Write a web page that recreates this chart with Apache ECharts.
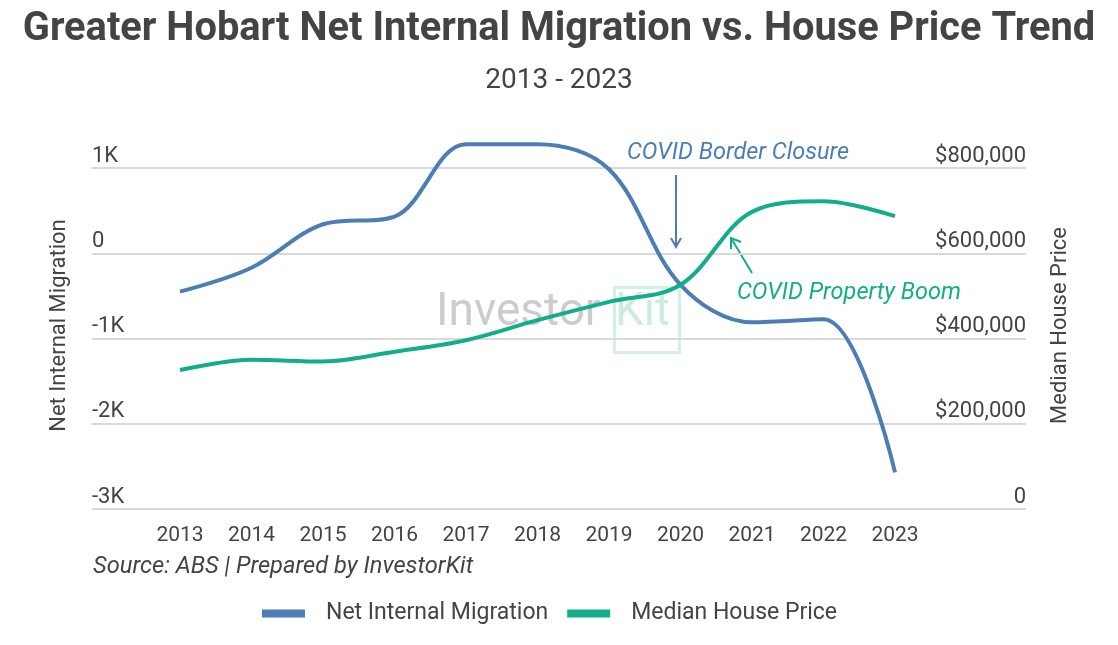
<!DOCTYPE html>
<html>
<head>
<meta charset="utf-8">
<script src="https://cdn.jsdelivr.net/npm/echarts@6/dist/echarts.min.js"></script>
<style>
html,body{margin:0;padding:0;background:#fff;}
#main{width:1118px;height:645px;}
</style>
</head>
<body>
<div id="main"></div>
<script>
const categories = ['2013','2014','2015','2016','2017','2018','2019','2020','2021','2022','2023'];
const netInternalMigration = [-450, -170, 340, 430, 1280, 1280, 985, -370, -810, -775, -2570];
const medianHousePrice = [326000, 350000, 346000, 369000, 396000, 443000, 486000, 526000, 697000, 722000, 687000];
const leftTicks = { min: -3000, max: 1000, interval: 1000 };
const rightTicks = { min: 0, max: 800000, interval: 200000 };

const BLUE = '#4A7EB5';
const GREEN = '#13AE89';
const TEXT = '#444444';
const FONT = 'Roboto';

const chart = echarts.init(document.getElementById('main'));

function fmtK(v){ return v === 0 ? '0' : (v/1000) + 'K'; }
function fmtMoney(v){ return v === 0 ? '0' : '$' + v.toLocaleString('en-US'); }

const option = {
  animation: false,
  backgroundColor: '#fff',
  textStyle: { fontFamily: FONT },
  title: [
    { text: 'Greater Hobart Net Internal Migration vs. House Price Trend', left: 'center', top: 5,
      textStyle: { fontFamily: FONT, fontSize: 39.8, fontWeight: 'bold', color: TEXT } },
    { text: '2013 - 2023', left: 'center', top: 62,
      textStyle: { fontFamily: FONT, fontSize: 28, fontWeight: 'normal', color: TEXT } }
  ],
  legend: {
    bottom: 15, left: 257, icon: 'rect', itemWidth: 43, itemHeight: 8, itemGap: 19,
    textStyle: { fontFamily: FONT, fontSize: 23, color: TEXT, padding: [0,0,0,16] },
    data: ['Net Internal Migration', 'Median House Price']
  },
  grid: [
    { left: 92, right: 92, top: 168, bottom: 136 },
    { left: 180, right: 223, top: 168, bottom: 136 }
  ],
  xAxis: [
    { gridIndex: 0, type: 'category', data: categories, show: false },
    { gridIndex: 1, type: 'category', data: categories, boundaryGap: false,
      axisLine: { show: false }, axisTick: { show: false }, splitLine: { show: false },
      axisLabel: { fontFamily: FONT, fontSize: 21, color: TEXT, margin: 16 } }
  ],
  yAxis: [
    { gridIndex: 0, type: 'value', position: 'left', min: leftTicks.min, max: leftTicks.max, interval: leftTicks.interval,
      axisLine: { show: false }, axisTick: { show: false },
      axisLabel: { inside: true, margin: 0, verticalAlign: 'bottom', padding: [0,0,1,0], fontFamily: FONT, fontSize: 22, color: TEXT, formatter: fmtK },
      splitLine: { show: true, lineStyle: { color: '#d9d9d9', width: 2 } } },
    { gridIndex: 0, type: 'value', position: 'right', min: rightTicks.min, max: rightTicks.max, interval: rightTicks.interval,
      axisLine: { show: false }, axisTick: { show: false },
      axisLabel: { inside: true, margin: 0, verticalAlign: 'bottom', padding: [0,0,1,0], fontFamily: FONT, fontSize: 22, color: TEXT, formatter: fmtMoney },
      splitLine: { show: false } },
    { gridIndex: 1, type: 'value', min: leftTicks.min, max: leftTicks.max, interval: leftTicks.interval, show: false, splitLine: { show: false } },
    { gridIndex: 1, type: 'value', min: rightTicks.min, max: rightTicks.max, interval: rightTicks.interval, show: false, splitLine: { show: false } }
  ],
  graphic: [
    // axis titles
    { type: 'text', x: 59, y: 325.5, rotation: Math.PI / 2,
      style: { text: 'Net Internal Migration', fontFamily: FONT, fontSize: 22, fill: TEXT, align: 'center', verticalAlign: 'middle' } },
    { type: 'text', x: 1060, y: 325.5, rotation: Math.PI / 2,
      style: { text: 'Median House Price', fontFamily: FONT, fontSize: 22, fill: TEXT, align: 'center', verticalAlign: 'middle' } },
    { type: 'text', left: 93, top: 555, style: { text: 'Source: ABS | Prepared by InvestorKit', fontFamily: FONT, fontStyle: 'italic', fontSize: 23.7, fill: TEXT } },
    // watermark
    { type: 'text', left: 436, top: 290, z: -1, style: { text: 'Investor', fontFamily: FONT, fontSize: 46, fill: '#cccccc' } },
    { type: 'rect', left: 612, top: 285, z: -1, shape: { width: 65, height: 65 }, style: { fill: 'none', stroke: '#d6efe6', lineWidth: 3 } },
    { type: 'text', left: 615, top: 290, z: -1, style: { text: 'Kit', fontFamily: FONT, fontSize: 46, fill: '#cdece0' } },
    // annotations
    { type: 'text', left: 627, top: 142, style: { text: 'COVID Border Closure', fontFamily: FONT, fontStyle: 'italic', fontSize: 23.5, fill: BLUE } },
    { type: 'line', shape: { x1: 676, y1: 175, x2: 676, y2: 247 }, style: { stroke: BLUE, lineWidth: 2 } },
    { type: 'polyline', shape: { points: [[671, 238], [676, 247], [681, 238]] }, style: { stroke: BLUE, lineWidth: 2, fill: 'none' } },
    { type: 'text', left: 737, top: 282, style: { text: 'COVID Property Boom', fontFamily: FONT, fontStyle: 'italic', fontSize: 23.5, fill: GREEN } },
    { type: 'line', shape: { x1: 752, y1: 273, x2: 731, y2: 238 }, style: { stroke: GREEN, lineWidth: 2 } },
    { type: 'polyline', shape: { points: [[731, 249], [731, 238], [741, 242]] }, style: { stroke: GREEN, lineWidth: 2, fill: 'none' } }
  ],
  series: [
    { name: 'Net Internal Migration', type: 'line', xAxisIndex: 1, yAxisIndex: 2, data: netInternalMigration,
      smooth: 0.35, showSymbol: false, symbol: 'none', clip: false, color: BLUE, lineStyle: { width: 4, color: BLUE } },
    { name: 'Median House Price', type: 'line', xAxisIndex: 1, yAxisIndex: 3, data: medianHousePrice,
      smooth: 0.35, showSymbol: false, symbol: 'none', clip: false, color: GREEN, lineStyle: { width: 4, color: GREEN } }
  ]
};
chart.setOption(option);
</script>
</body>
</html>
